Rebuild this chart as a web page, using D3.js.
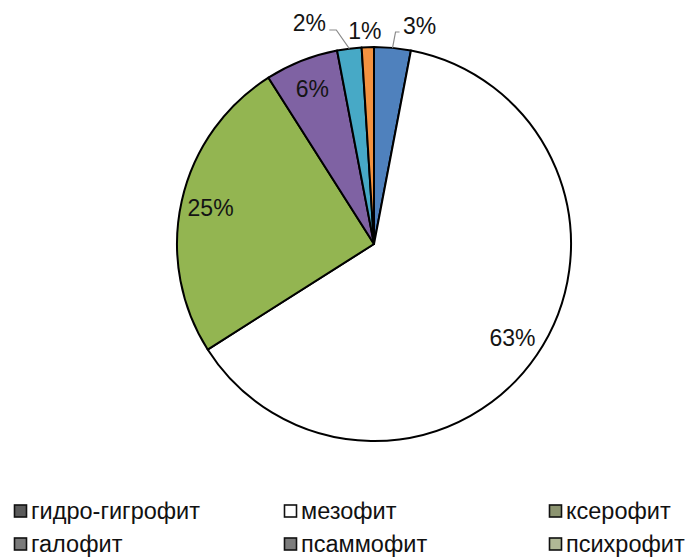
<!DOCTYPE html>
<html>
<head>
<meta charset="utf-8">
<script src="https://cdn.jsdelivr.net/npm/d3@7"></script>
<style>
  body { margin: 0; background: #fff; }
  svg { display: block; font-family: "Liberation Sans", Arial, sans-serif; }
</style>
</head>
<body>
<div id="chart"></div>
<script>
// data
const categories = ["гидро-гигрофит", "мезофит", "ксерофит", "галофит", "псаммофит", "психрофит"];
const shares = [3, 63, 25, 6, 2, 1];

const sliceColors = ["#4f81bd", "#ffffff", "#93b551", "#7f62a3", "#47a9c6", "#f39240"];
const swatchColors = ["#5a5a5a", "#ffffff", "#8c9470", "#7a7a7a", "#7c7c7c", "#b1b896"];

const width = 688, height = 558;
const cx = 374, cy = 244, radius = 197;

const svg = d3.select("#chart").append("svg")
    .attr("width", width)
    .attr("height", height);

const pie = d3.pie().sort(null).value(d => d.value);
const arcs = pie(categories.map((c, i) => ({ name: c, value: shares[i], i: i })));

const arc = d3.arc().innerRadius(0).outerRadius(radius);
const labelArc = d3.arc().innerRadius(radius * 0.85).outerRadius(radius * 0.85);

const g = svg.append("g").attr("transform", `translate(${cx},${cy})`);

g.selectAll("path.slice")
    .data(arcs)
    .join("path")
    .attr("class", "slice")
    .attr("d", arc)
    .attr("fill", d => sliceColors[d.data.i])
    .attr("stroke", "#000")
    .attr("stroke-width", 2)
    .attr("stroke-linejoin", "round");

// small slices get their labels outside, above the pie (nudged like the original)
const outside = d => d.data.value < 5;
const outsideDx = { 0: 27, 4: -40, 5: -3 };
const outsideDy = { 0: 5, 4: 2, 5: 10 };

function outsidePos(d) {
    const a = (d.startAngle + d.endAngle) / 2;
    return [radius * Math.sin(a) + outsideDx[d.data.i], -radius - 26 + outsideDy[d.data.i]];
}

// leader lines for 2% and 3%
const leadElbow = { 0: [3, 7], 4: [-13, -20] };
const leadY = { 0: -212, 4: -214 };
const leader = d3.line();
g.selectAll("path.lead")
    .data(arcs.filter(d => leadElbow[d.data.i]))
    .join("path")
    .attr("class", "lead")
    .attr("fill", "none")
    .attr("stroke", "#8a8a8a")
    .attr("stroke-width", 1.2)
    .attr("d", d => {
        const a = (d.startAngle + d.endAngle) / 2;
        const x0 = radius * Math.sin(a), y0 = -radius * Math.cos(a);
        const e = leadElbow[d.data.i];
        return leader([[x0, y0], [x0 + e[0], leadY[d.data.i]], [x0 + e[1], leadY[d.data.i]]]);
    });

g.selectAll("text.val")
    .data(arcs)
    .join("text")
    .attr("class", "val")
    .attr("transform", d => `translate(${outside(d) ? outsidePos(d) : labelArc.centroid(d)})`)
    .attr("text-anchor", "middle")
    .attr("dy", "0.36em")
    .style("font-size", "23px")
    .attr("fill", "#141414")
    .text(d => d.data.value + "%");

// legend: 3 columns x 2 rows
const colX = [14, 284, 549];
const rowY = [511, 544];

const legend = svg.append("g")
    .selectAll("g")
    .data(categories)
    .join("g")
    .attr("transform", (d, i) => `translate(${colX[i % 3]},${rowY[Math.floor(i / 3)]})`);

legend.append("rect")
    .attr("x", 0.5)
    .attr("y", -6)
    .attr("width", 12)
    .attr("height", 12)
    .attr("fill", (d, i) => swatchColors[i])
    .attr("stroke", "#111")
    .attr("stroke-width", 1.6);

legend.append("text")
    .attr("x", 17)
    .attr("dy", "0.36em")
    .style("font-size", "23.5px")
    .attr("fill", "#111")
    .text(d => d);
</script>
</body>
</html>
